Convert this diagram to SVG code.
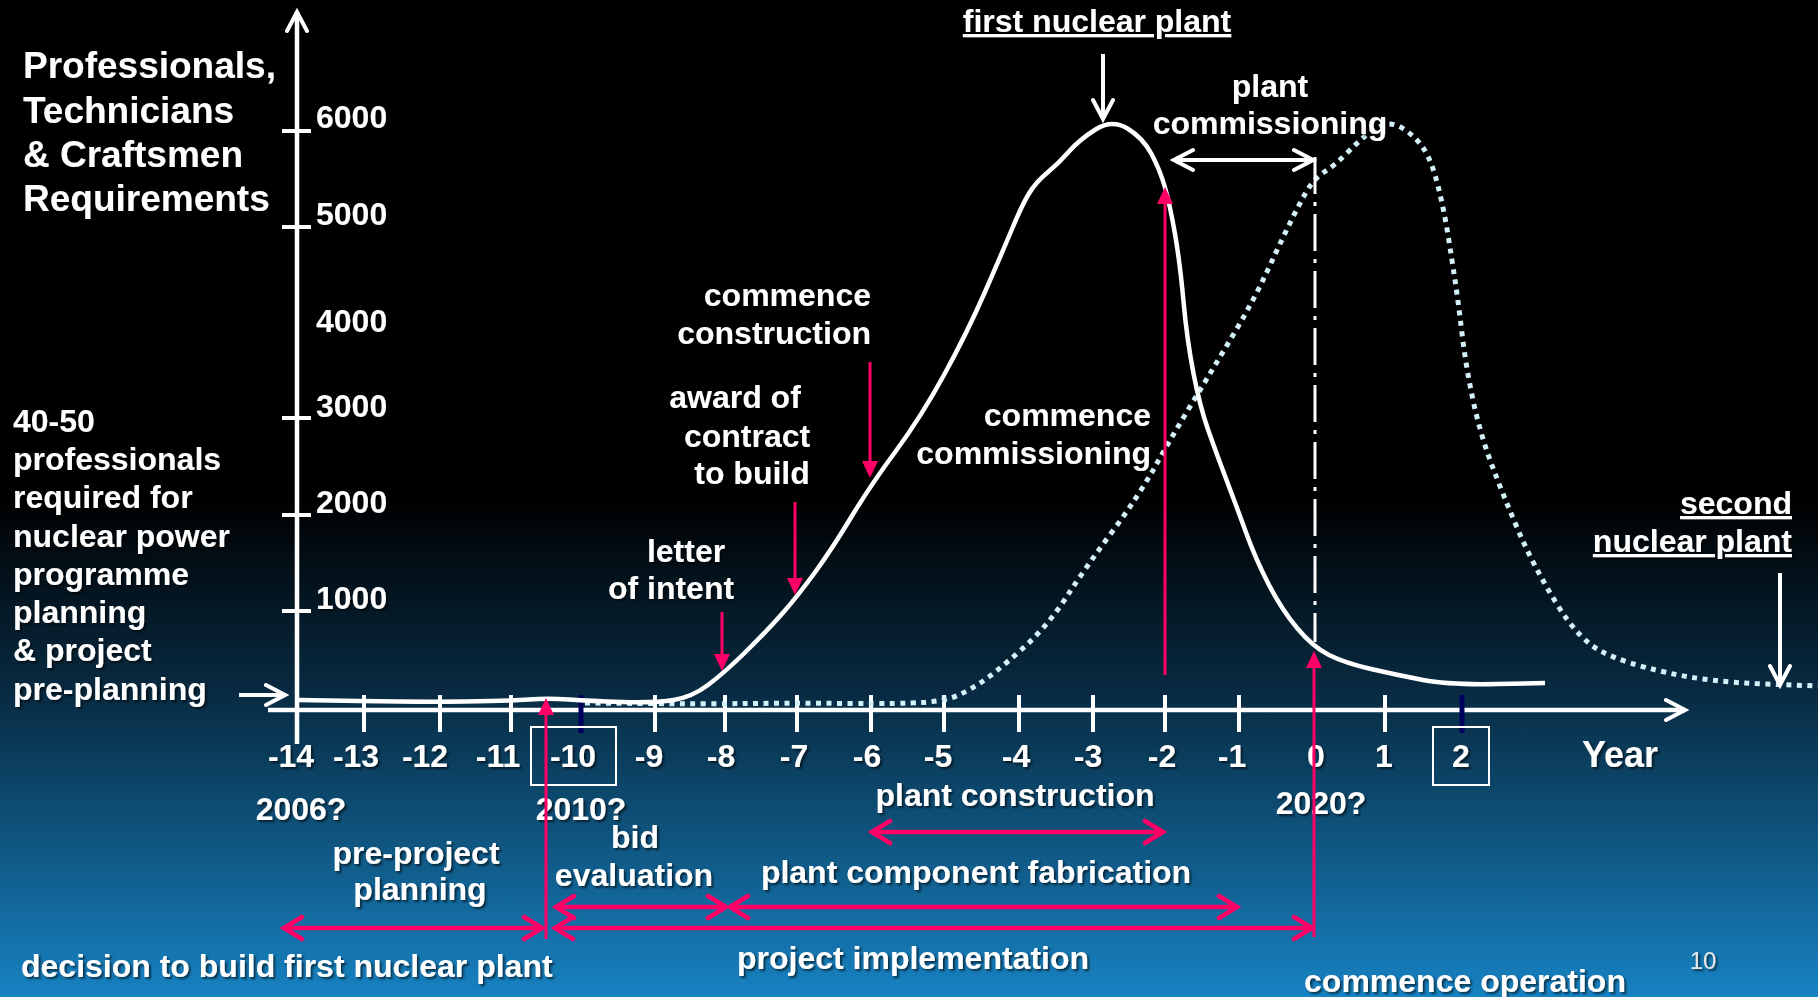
<svg xmlns="http://www.w3.org/2000/svg" width="1818" height="997" viewBox="0 0 1818 997">
<style>
.t{font-family:"Liberation Sans",Arial,sans-serif;font-weight:bold;fill:#fff;font-size:32px}
.title{font-size:37px}
.yl{font-size:36px}
.m{text-anchor:middle}
.e{text-anchor:end}
.u{text-decoration:underline}
.ax{stroke:#fff;stroke-width:4.5;fill:none}
.tk{stroke:#fff;stroke-width:4}
.tkn{stroke:#000060;stroke-width:5}
.pk{stroke:#ff0066;stroke-width:3;fill:none}
.pkh{stroke:#ff0066;stroke-width:4.5;fill:none;marker-start:url(#chP);marker-end:url(#chP)}
.wa{stroke:#fff;stroke-width:4;fill:none;marker-end:url(#chW)}
.box{fill:none;stroke:#fff;stroke-width:2}
</style>
<defs>
<linearGradient id="bg" x1="0" y1="0" x2="0" y2="997" gradientUnits="userSpaceOnUse">
<stop offset="0" stop-color="#000"/>
<stop offset="0.5" stop-color="#000"/>
<stop offset="0.7" stop-color="#082c44"/>
<stop offset="1" stop-color="#1782c2"/>
</linearGradient>
<filter id="sh" x="-5%" y="-20%" width="110%" height="150%">
<feDropShadow dx="2" dy="2" stdDeviation="1" flood-color="#000" flood-opacity="0.6"/>
</filter>
<marker id="chW" viewBox="0 0 26 28" refX="22" refY="14" markerWidth="26" markerHeight="28" markerUnits="userSpaceOnUse" orient="auto-start-reverse">
<path d="M3,4 L22,14 L3,24" fill="none" stroke="#fff" stroke-width="4" stroke-linecap="round"/>
</marker>
<marker id="chP" viewBox="0 0 26 28" refX="22" refY="14" markerWidth="26" markerHeight="28" markerUnits="userSpaceOnUse" orient="auto-start-reverse">
<path d="M4,3 L22,14 L4,25" fill="none" stroke="#ff0066" stroke-width="4.5" stroke-linecap="round"/>
</marker>
<marker id="triP" viewBox="0 0 17 16" refX="3" refY="8" markerWidth="17" markerHeight="16" markerUnits="userSpaceOnUse" orient="auto">
<path d="M0,0 L17,8 L0,16 z" fill="#ff0066"/>
</marker>
</defs>
<rect width="1818" height="997" fill="url(#bg)"/>

<g id="axes">
<line class="ax" x1="297" y1="744" x2="297" y2="12" style="marker-end:url(#chW)"/>
<line class="ax" x1="268" y1="710" x2="1685" y2="710" style="marker-end:url(#chW)"/>
<g id="yticks">
<line class="tk" x1="282" y1="131" x2="311" y2="131"/>
<line class="tk" x1="282" y1="227" x2="311" y2="227"/>
<line class="tk" x1="282" y1="418" x2="311" y2="418"/>
<line class="tk" x1="282" y1="515" x2="311" y2="515"/>
<line class="tk" x1="282" y1="611" x2="311" y2="611"/>
</g>
<g id="xticks">
<line class="tk" x1="364" y1="695" x2="364" y2="732"/>
<line class="tk" x1="440" y1="695" x2="440" y2="732"/>
<line class="tk" x1="511" y1="695" x2="511" y2="732"/>
<line class="tkn" x1="581" y1="695" x2="581" y2="733"/>
<line class="tk" x1="655" y1="695" x2="655" y2="732"/>
<line class="tk" x1="725" y1="695" x2="725" y2="732"/>
<line class="tk" x1="797" y1="695" x2="797" y2="732"/>
<line class="tk" x1="871" y1="695" x2="871" y2="732"/>
<line class="tk" x1="944" y1="695" x2="944" y2="732"/>
<line class="tk" x1="1019" y1="695" x2="1019" y2="732"/>
<line class="tk" x1="1093" y1="695" x2="1093" y2="732"/>
<line class="tk" x1="1165" y1="695" x2="1165" y2="732"/>
<line class="tk" x1="1239" y1="695" x2="1239" y2="732"/>
<line class="tk" x1="1385" y1="695" x2="1385" y2="732"/>
<line class="tkn" x1="1462" y1="695" x2="1462" y2="733"/>
</g>
<rect class="box" x="531" y="727" width="85" height="58"/>
<rect class="box" x="1433" y="727" width="56" height="58"/>
</g>

<g id="curves">
<path id="second-curve" d="M585,703 L642.5,703.5 Q700,704 750,703.5 Q800,703 850,703.5 Q900,704 922.5,702.5 Q945,701 957.5,695.5 Q970,690 982.5,681.5 Q995,673 1021,650 Q1047,627 1066.5,597 Q1086,567 1112,532 Q1138,497 1156,465 Q1174,433 1194,400 Q1214,367 1234,333.5 Q1254,300 1268.5,268.5 Q1283,237 1293,217 Q1303,197 1309,187.5 Q1315,178 1325,171.5 Q1335,165 1346,154 Q1357,143 1364.5,136.5 Q1372,130 1382,125.5 Q1392,121 1404.5,129.5 Q1417,138 1424.5,150 Q1432,162 1438,186 Q1444,210 1448,235 Q1452,260 1455,280 Q1458,300 1462,333.5 Q1466,367 1473,400 Q1480,433 1491.5,464 Q1503,495 1518.5,531 Q1534,567 1556.5,603.5 Q1579,640 1601.5,651.5 Q1624,663 1666.5,672.5 Q1709,682 1763.5,684 L1818,686" fill="none" stroke="#d4f1f9" stroke-width="5" stroke-dasharray="5 5.5"/>
<path id="first-curve" d="M298,700 L359,701 Q420,702 465,701.5 Q510,701 529,699.5 Q548,698 569,699.5 Q590,701 622.5,702 Q655,703 673.5,700 Q692,697 708,685 Q724,673 744.5,653 Q765,633 781,615 Q797,597 814.5,573 Q832,549 851,517.5 Q870,486 895.5,451.5 Q921,417 944,375 Q967,333 984.5,293 Q1002,253 1012,229 Q1022,205 1029,193.5 Q1036,182 1047.5,172.5 Q1059,163 1069,151.5 Q1079,140 1095.5,129.5 Q1112,119 1127.5,128.5 Q1143,138 1151.5,154 Q1160,170 1165,187.5 Q1170,205 1175,234 Q1180,263 1183.5,301.5 Q1187,340 1193.5,373.5 Q1200,407 1208.5,431 Q1217,455 1226.5,480 Q1236,505 1246,532.5 Q1256,560 1269,585 Q1282,610 1297.5,628.5 Q1313,647 1329,655 Q1345,663 1371,669 Q1397,675 1423,680 Q1449,685 1497,684 L1545,683" fill="none" stroke="#fff" stroke-width="4.5" stroke-linejoin="round"/>
<line id="year0" x1="1315" y1="157" x2="1315" y2="642" stroke="#fff" stroke-width="3" stroke-dasharray="37 8 4 8"/>
</g>

<g id="labels" filter="url(#sh)">
<g id="ylabel" class="t title">
<text x="23" y="78">Professionals,</text>
<text x="23" y="123">Technicians</text>
<text x="23" y="167">&amp; Craftsmen</text>
<text x="23" y="211">Requirements</text>
</g>
<g id="yvalues" class="t">
<text x="316" y="128">6000</text>
<text x="316" y="225">5000</text>
<text x="316" y="332">4000</text>
<text x="316" y="417">3000</text>
<text x="316" y="513">2000</text>
<text x="316" y="609">1000</text>
</g>
<g id="xvalues" class="t m">
<text x="291" y="767">-14</text>
<text x="356" y="767">-13</text>
<text x="425" y="767">-12</text>
<text x="498" y="767">-11</text>
<text x="573" y="767">-10</text>
<text x="649" y="767">-9</text>
<text x="721" y="767">-8</text>
<text x="794" y="767">-7</text>
<text x="867" y="767">-6</text>
<text x="938" y="767">-5</text>
<text x="1016" y="767">-4</text>
<text x="1088" y="767">-3</text>
<text x="1162" y="767">-2</text>
<text x="1232" y="767">-1</text>
<text x="1316" y="767">0</text>
<text x="1384" y="767">1</text>
<text x="1461" y="767">2</text>
</g>
<text id="xlabel" class="t yl m" x="1620" y="767">Year</text>
<g id="years" class="t m">
<text x="301" y="820">2006?</text>
<text x="581" y="820">2010?</text>
<text x="1321" y="814">2020?</text>
</g>
<g id="note-preplanning" class="t">
<text x="13" y="432">40-50</text>
<text x="13" y="470">professionals</text>
<text x="13" y="508">required for</text>
<text x="13" y="547">nuclear power</text>
<text x="13" y="585">programme</text>
<text x="13" y="623">planning</text>
<text x="13" y="661">&amp; project</text>
<text x="13" y="700">pre-planning</text>
</g>
<text id="first-plant" class="t m u" x="1097" y="32">first nuclear plant</text>
<g id="plant-commissioning" class="t m">
<text x="1270" y="97">plant</text>
<text x="1270" y="134">commissioning</text>
</g>
<g id="commence-construction" class="t e">
<text x="871" y="306">commence</text>
<text x="871" y="344">construction</text>
</g>
<g id="award" class="t m">
<text x="735" y="408">award of</text>
<text x="747" y="447">contract</text>
<text x="752" y="484">to build</text>
</g>
<g id="letter" class="t m">
<text x="686" y="562">letter</text>
<text x="671" y="599">of intent</text>
</g>
<g id="commence-commissioning" class="t e">
<text x="1151" y="426">commence</text>
<text x="1151" y="464">commissioning</text>
</g>
<g id="second-plant" class="t e u">
<text x="1792" y="514">second</text>
<text x="1792" y="552">nuclear plant</text>
</g>
<g id="pre-project" class="t m">
<text x="416" y="864">pre-project</text>
<text x="420" y="900">planning</text>
</g>
<g id="bid" class="t m">
<text x="635" y="848">bid</text>
<text x="634" y="886">evaluation</text>
</g>
<text id="construction" class="t m" x="1015" y="806">plant construction</text>
<text id="fabrication" class="t m" x="976" y="883">plant component fabrication</text>
<text id="implementation" class="t m" x="913" y="969">project implementation</text>
<text id="decision" class="t" x="21" y="977">decision to build first nuclear plant</text>
<text id="operation" class="t m" x="1465" y="992">commence operation</text>
<text id="page" x="1703" y="969" text-anchor="middle" font-family="Liberation Sans, Arial, sans-serif" font-size="24" fill="#e8e8e8">10</text>
</g>

<g id="connectors">
<line class="wa" x1="239" y1="695" x2="285" y2="695"/>
<line class="wa" x1="1103" y1="54" x2="1103" y2="119"/>
<line class="wa" x1="1780" y1="573" x2="1780" y2="685"/>
<line class="wa" x1="1174" y1="160" x2="1313" y2="160" style="marker-start:url(#chW)"/>
<line class="pk" x1="546" y1="939" x2="546" y2="712" marker-end="url(#triP)"/>
<line class="pk" x1="1165" y1="675" x2="1165" y2="201" marker-end="url(#triP)"/>
<line class="pk" x1="1314" y1="937" x2="1314" y2="665" marker-end="url(#triP)"/>
<line class="pk" x1="722" y1="612" x2="722" y2="657" marker-end="url(#triP)"/>
<line class="pk" x1="795" y1="502" x2="795" y2="581" marker-end="url(#triP)"/>
<line class="pk" x1="870" y1="362" x2="870" y2="464" marker-end="url(#triP)"/>
<line class="pkh" x1="284" y1="928" x2="542" y2="928"/>
<line class="pkh" x1="555" y1="928" x2="1312" y2="928"/>
<line class="pkh" x1="556" y1="907" x2="726" y2="907"/>
<line class="pkh" x1="730" y1="907" x2="1237" y2="907"/>
<line class="pkh" x1="872" y1="832" x2="1163" y2="832"/>
</g>
</svg>
